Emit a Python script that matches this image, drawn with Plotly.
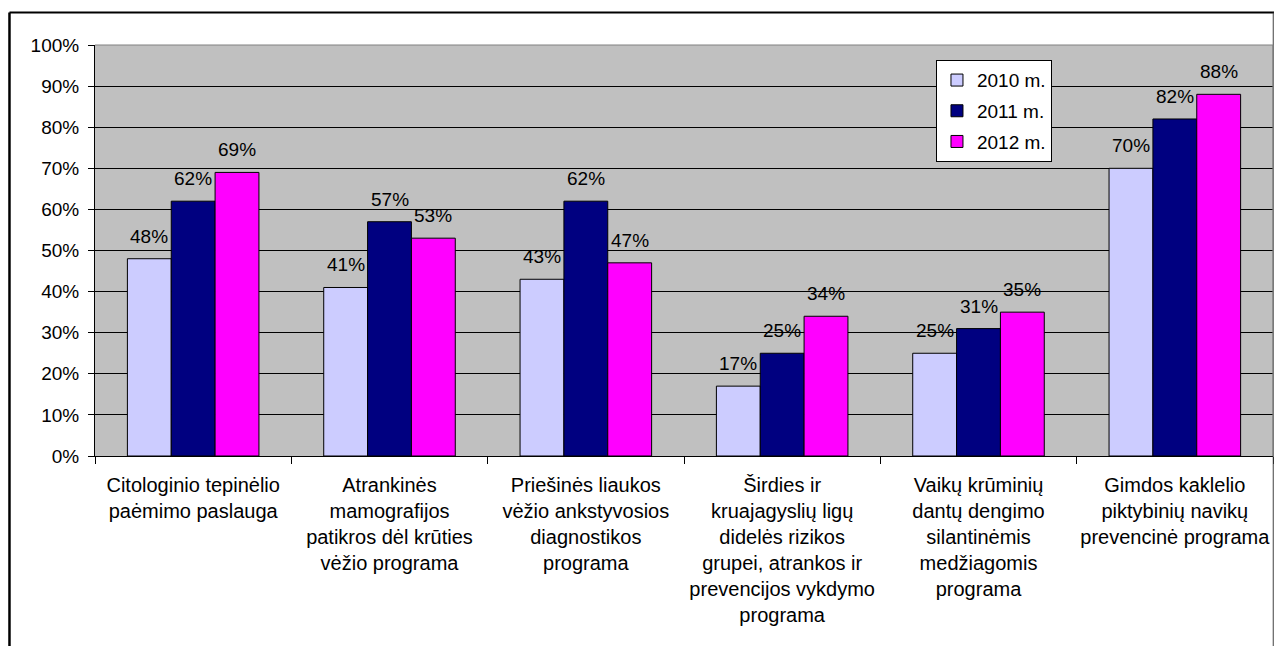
import plotly.graph_objects as go

# program names (tick labels, wrapped like in the original)
programs = [
    "Citologinio tepinėlio<br>paėmimo paslauga",
    "Atrankinės<br>mamografijos<br>patikros dėl krūties<br>vėžio programa",
    "Priešinės liaukos<br>vėžio ankstyvosios<br>diagnostikos<br>programa",
    "Širdies ir<br>kruajagyslių ligų<br>didelės rizikos<br>grupei, atrankos ir<br>prevencijos vykdymo<br>programa",
    "Vaikų krūminių<br>dantų dengimo<br>silantinėmis<br>medžiagomis<br>programa",
    "Gimdos kaklelio<br>piktybinių navikų<br>prevencinė programa",
]
years = ["2010 m.", "2011 m.", "2012 m."]
pct_2010 = [48, 41, 43, 17, 25, 70]
pct_2011 = [62, 57, 62, 25, 31, 82]
pct_2012 = [69, 53, 47, 34, 35, 88]
colors = ["#CCCCFF", "#000080", "#FF00FF"]

FONT = "Arial, Liberation Sans, sans-serif"
BARGAP = 0.33
series = [pct_2010, pct_2011, pct_2012]

fig = go.Figure()
for name, vals, col in zip(years, series, colors):
    fig.add_trace(go.Bar(x=programs, y=vals, name=name, legendgroup=name,
                         marker=dict(color=col, line=dict(color="black", width=1))))

# value labels above each bar
bar_w = (1 - BARGAP) / len(series)
annotations = []
for j, vals in enumerate(series):
    for i, v in enumerate(vals):
        annotations.append(dict(
            x=i + (j - 1) * bar_w, y=v, xref="x", yref="y",
            text=f"{v}%", showarrow=False, yanchor="bottom", yshift=10,
            font=dict(family=FONT, size=19, color="black")))

shapes = [
    # outer frame
    dict(type="line", xref="paper", yref="paper", x0=-0.0726, x1=1.01,
         y0=1.0791, y1=1.0791, line=dict(color="black", width=2)),
    dict(type="line", xref="paper", yref="paper", x0=-0.0726, x1=-0.0726,
         y0=1.0791, y1=-0.5, line=dict(color="black", width=2.5)),
    dict(type="line", xref="paper", yref="paper", x0=1.0002, x1=1.0002,
         y0=1.0791, y1=-0.5, line=dict(color="#404040", width=1)),
    # plot area frame (top / right)
    dict(type="line", xref="paper", yref="paper", x0=0, x1=1, y0=1, y1=1,
         line=dict(color="#808080", width=1)),
    dict(type="line", xref="paper", yref="paper", x0=1, x1=1, y0=0, y1=1,
         line=dict(color="#808080", width=1)),
]

fig.update_layout(
    width=1274, height=646, autosize=False,
    margin=dict(l=95, r=1, t=45, b=190),
    paper_bgcolor="white", plot_bgcolor="#C0C0C0",
    barmode="group", bargap=BARGAP, bargroupgap=0,
    font=dict(family=FONT, size=19, color="black"),
    showlegend=True,
    legend=dict(x=0.7139, y=0.963, xanchor="left", yanchor="top",
                bgcolor="white", bordercolor="black", borderwidth=1,
                font=dict(family=FONT, size=19, color="black"),
                tracegroupgap=3),
    annotations=annotations,
    shapes=shapes,
)
fig.update_xaxes(showline=True, linecolor="black", linewidth=1,
                 ticks="outside", tickson="boundaries", ticklen=7,
                 tickcolor="black", ticklabelstandoff=11, tickangle=0,
                 automargin=False,
                 tickfont=dict(family=FONT, size=20, color="black"))
fig.update_yaxes(range=[0, 100], dtick=10, ticksuffix="%",
                 showline=True, linecolor="black", linewidth=1,
                 ticks="outside", ticklen=6, tickcolor="black",
                 showgrid=True, gridcolor="black", gridwidth=1,
                 zeroline=False, ticklabelstandoff=5, automargin=False,
                 tickfont=dict(family=FONT, size=19, color="black"))

fig.write_html("out.html", config={"displayModeBar": False},
               post_script="document.body.style.margin='0';")
